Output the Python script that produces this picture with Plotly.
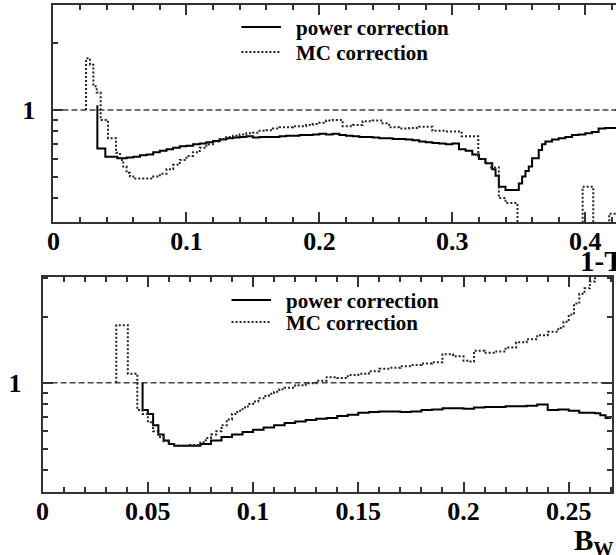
import plotly.graph_objects as go

# ---------------- data ----------------
# top panel: 1-T
TOP_POWER = [(0.033, 1.05), (0.033, 0.67), (0.039, 0.615), (0.048, 0.605), (0.055, 0.61), (0.060, 0.615),
             (0.065, 0.625), (0.070, 0.63), (0.075, 0.645), (0.080, 0.655), (0.085, 0.665), (0.090, 0.675),
             (0.095, 0.685), (0.100, 0.69), (0.105, 0.70), (0.110, 0.705), (0.115, 0.715), (0.120, 0.725),
             (0.125, 0.735), (0.130, 0.745), (0.135, 0.75), (0.140, 0.755), (0.145, 0.76), (0.150, 0.75),
             (0.155, 0.755), (0.165, 0.755), (0.170, 0.76), (0.175, 0.765), (0.185, 0.77), (0.195, 0.775),
             (0.200, 0.78), (0.205, 0.775), (0.210, 0.78), (0.215, 0.77), (0.220, 0.765), (0.225, 0.76),
             (0.230, 0.755), (0.240, 0.75), (0.245, 0.745), (0.255, 0.74), (0.265, 0.735), (0.270, 0.73),
             (0.275, 0.72), (0.280, 0.715), (0.285, 0.71), (0.290, 0.705), (0.295, 0.70), (0.300, 0.705),
             (0.305, 0.665), (0.310, 0.655), (0.315, 0.63), (0.320, 0.60), (0.325, 0.575), (0.330, 0.54),
             (0.3325, 0.505), (0.335, 0.45), (0.340, 0.435), (0.350, 0.465), (0.3525, 0.50), (0.355, 0.53),
             (0.3575, 0.555), (0.360, 0.605), (0.365, 0.66), (0.3675, 0.70), (0.370, 0.72), (0.375, 0.735),
             (0.380, 0.745), (0.385, 0.755), (0.390, 0.77), (0.395, 0.775), (0.400, 0.785), (0.405, 0.795),
             (0.410, 0.825), (0.415, 0.83), (0.430, 0.83)]

TOP_MC = [(0.0245, 1.0), (0.0245, 1.71), (0.0275, 1.60), (0.030, 1.28), (0.0325, 1.20), (0.0355, 0.90),
          (0.041, 0.745), (0.047, 0.64), (0.050, 0.595), (0.0525, 0.555), (0.055, 0.52), (0.0575, 0.50),
          (0.060, 0.49), (0.075, 0.50), (0.080, 0.515), (0.085, 0.54), (0.090, 0.565), (0.095, 0.595),
          (0.100, 0.62), (0.105, 0.645), (0.110, 0.675), (0.115, 0.70), (0.120, 0.72), (0.125, 0.74),
          (0.130, 0.755), (0.135, 0.765), (0.140, 0.775), (0.145, 0.785), (0.150, 0.79), (0.155, 0.805),
          (0.160, 0.81), (0.165, 0.825), (0.170, 0.835), (0.180, 0.845), (0.190, 0.855), (0.195, 0.865),
          (0.200, 0.875), (0.205, 0.895), (0.210, 0.90), (0.2175, 0.845), (0.225, 0.855), (0.2325, 0.89),
          (0.240, 0.895), (0.2475, 0.87), (0.2525, 0.835), (0.260, 0.825), (0.2675, 0.83), (0.275, 0.84),
          (0.285, 0.805), (0.295, 0.80), (0.307, 0.76), (0.3195, 0.60), (0.3245, 0.575), (0.329, 0.55),
          (0.335, 0.40), (0.340, 0.38), (0.349, 0.20), (0.398, 0.45), (0.406, 0.20), (0.418, 0.34),
          (0.430, 0.34)]

# bottom panel: B_W
BOT_POWER = [(0.0475, 1.0), (0.0475, 0.75), (0.050, 0.72), (0.0525, 0.64), (0.055, 0.58), (0.0575, 0.545),
             (0.060, 0.525), (0.0625, 0.515), (0.070, 0.515), (0.075, 0.525), (0.080, 0.545), (0.085, 0.565),
             (0.090, 0.58), (0.095, 0.595), (0.100, 0.61), (0.105, 0.625), (0.110, 0.64), (0.115, 0.655),
             (0.120, 0.665), (0.125, 0.675), (0.130, 0.685), (0.135, 0.69), (0.140, 0.705), (0.145, 0.715),
             (0.150, 0.73), (0.155, 0.735), (0.160, 0.74), (0.170, 0.735), (0.175, 0.74), (0.180, 0.75),
             (0.185, 0.755), (0.190, 0.765), (0.200, 0.76), (0.205, 0.77), (0.210, 0.775), (0.220, 0.78),
             (0.230, 0.785), (0.235, 0.795), (0.240, 0.75), (0.245, 0.755), (0.250, 0.745), (0.255, 0.73),
             (0.2625, 0.725), (0.265, 0.71), (0.2675, 0.69), (0.270, 0.69)]

BOT_MC = [(0.035, 1.0), (0.035, 1.83), (0.0405, 1.10), (0.045, 0.75), (0.0475, 0.72), (0.050, 0.66),
          (0.0525, 0.60), (0.055, 0.565), (0.0575, 0.54), (0.060, 0.525), (0.0625, 0.515), (0.070, 0.52),
          (0.075, 0.535), (0.0775, 0.56), (0.080, 0.58), (0.0825, 0.60), (0.085, 0.64), (0.0875, 0.68),
          (0.090, 0.72), (0.0925, 0.745), (0.095, 0.77), (0.0975, 0.80), (0.100, 0.82), (0.1025, 0.85),
          (0.105, 0.87), (0.1075, 0.89), (0.110, 0.91), (0.1125, 0.935), (0.115, 0.95), (0.120, 0.975),
          (0.125, 0.995), (0.130, 1.02), (0.135, 1.06), (0.140, 1.05), (0.145, 1.085), (0.150, 1.10),
          (0.155, 1.13), (0.160, 1.16), (0.165, 1.17), (0.170, 1.19), (0.175, 1.205), (0.180, 1.225),
          (0.185, 1.24), (0.190, 1.35), (0.195, 1.32), (0.200, 1.26), (0.2025, 1.25), (0.205, 1.40),
          (0.210, 1.37), (0.215, 1.39), (0.220, 1.45), (0.225, 1.53), (0.230, 1.58), (0.235, 1.65),
          (0.240, 1.71), (0.245, 1.78), (0.2475, 1.90), (0.250, 2.05), (0.2525, 2.30), (0.255, 2.55),
          (0.2575, 2.70), (0.260, 2.90), (0.2625, 3.30), (0.270, 3.30)]

TOP_XTICKS = [0, 0.1, 0.2, 0.3, 0.4]
TOP_XLABELS = ["0", "0.1", "0.2", "0.3", "0.4"]
BOT_XTICKS = [0, 0.05, 0.1, 0.15, 0.2, 0.25]
BOT_XLABELS = ["0", "0.05", "0.1", "0.15", "0.2", "0.25"]
Y_MINOR = [0.4, 0.5, 0.6, 0.7, 0.8, 0.9, 2, 3]
SERIES_NAMES = ["power correction", "MC correction"]

# ---------------- figure ----------------
W, H = 640, 555
FONT = "Liberation Serif"
tickfont = dict(family=FONT, size=26, color="black", weight="bold")
legfont = dict(family=FONT, size=21, color="black", weight="bold")

def xy(pairs):
    return [p[0] for p in pairs], [p[1] for p in pairs]

fig = go.Figure()
solid = dict(color="black", width=2)
dotted = dict(color="#222", width=2, dash="2px,2px")

for pairs, name, line, xa, ya in [
    (TOP_POWER, SERIES_NAMES[0], solid, "x", "y"),
    (TOP_MC, SERIES_NAMES[1], dotted, "x", "y"),
    (BOT_POWER, SERIES_NAMES[0], solid, "x2", "y2"),
    (BOT_MC, SERIES_NAMES[1], dotted, "x2", "y2"),
]:
    x, y = xy(pairs)
    fig.add_trace(go.Scatter(x=x, y=y, mode="lines", line=line, line_shape="hv",
                             name=name, xaxis=xa, yaxis=ya, showlegend=False))

axis_common = dict(showline=True, linecolor="#333", linewidth=2, mirror="ticks", ticks="inside",
                   tickcolor="#333", tickwidth=2, showgrid=False, zeroline=False, tickfont=tickfont)
minor_common = dict(ticks="inside", ticklen=5, tickcolor="#333", tickwidth=1.5)

fig.update_layout(
    width=W, height=H, margin=dict(l=0, r=0, t=0, b=0),
    paper_bgcolor="white", plot_bgcolor="white", showlegend=False,
    xaxis=dict(domain=[47 / W, 625 / W], range=[0, 0.43], anchor="y",
               tickvals=TOP_XTICKS, ticktext=TOP_XLABELS, ticklen=10,
               minor=dict(dtick=0.02, tick0=0, **minor_common),
               ticklabelstandoff=-5, **axis_common),
    yaxis=dict(domain=[1 - 222 / H, 1 - 5 / H], type="log", range=[-0.506, 0.474], anchor="x",
               tickvals=[1], ticktext=["1"], ticklen=10,
               minor=dict(tickvals=Y_MINOR, **minor_common),
               ticklabelstandoff=11, **axis_common),
    xaxis2=dict(domain=[36 / W, 612 / W], range=[0, 0.2707], anchor="y2",
                tickvals=BOT_XTICKS, ticktext=BOT_XLABELS, ticklen=10,
                minor=dict(dtick=0.01, tick0=0, **minor_common),
                ticklabelstandoff=-5, **axis_common),
    yaxis2=dict(domain=[1 - 492 / H, 1 - 277 / H], type="log", range=[-0.499, 0.483], anchor="x2",
                tickvals=[1], ticktext=["1"], ticklen=10,
                minor=dict(tickvals=Y_MINOR, **minor_common),
                ticklabelstandoff=14, **axis_common),
)

# reference line at 1 in each panel
for xr, yr in [("x domain", "y"), ("x2 domain", "y2")]:
    fig.add_shape(type="line", xref=xr, yref=yr, x0=0, x1=1, y0=1, y1=1,
                  line=dict(color="#444", width=1.5, dash="6px,3px"), layer="below")

# legend keys and labels (one block per panel)
for (kx0, kx1, tx, rows) in [(237, 277, 290, (27, 52)), (227, 267, 280, (300, 322))]:
    for name, style, ry in zip(SERIES_NAMES, (solid, dotted), rows):
        fig.add_shape(type="line", xref="paper", yref="paper",
                      x0=kx0 / W, x1=kx1 / W, y0=1 - ry / H, y1=1 - ry / H, line=style)
        fig.add_annotation(text=name, xref="paper", yref="paper", x=tx / W, y=1 - (ry + 1) / H,
                           xanchor="left", yanchor="middle", showarrow=False, font=legfont)

# axis titles (right-aligned, as in the reference)
fig.add_annotation(text="1-T", xref="paper", yref="paper", x=577 / W, y=1 - 261 / H,
                   xanchor="left", yanchor="middle", showarrow=False,
                   font=dict(family=FONT, size=29, color="black", weight="bold"))
fig.add_annotation(text="B<sub>W</sub>", xref="paper", yref="paper", x=571 / W, y=1 - 522 / H,
                   xanchor="left", yanchor="top", showarrow=False,
                   font=dict(family=FONT, size=29, color="black", weight="bold"))

fig.write_html("out.html")
